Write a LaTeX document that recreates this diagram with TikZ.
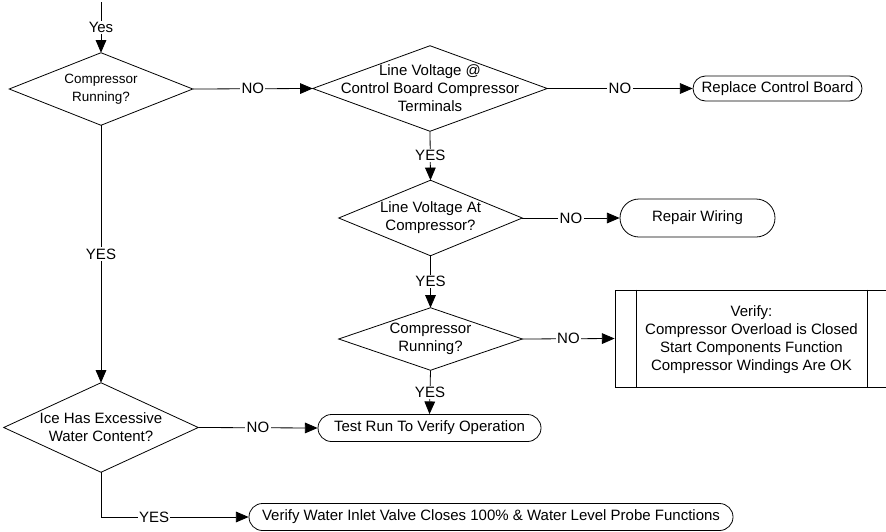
\documentclass[tikz,border=0pt]{standalone}
\usepackage{fontspec}
\setmainfont{Liberation Sans}
\usetikzlibrary{arrows.meta}
\begin{document}
\begin{tikzpicture}[x=0.75pt,y=-0.75pt,
  every node/.style={font=\fontsize{11.25pt}{13.5pt}\selectfont, align=center},
  dia/.style 2 args={inner sep=0pt, minimum width=#1*0.75pt, minimum height=#2*0.75pt},
  term/.style 2 args={draw, line width=0.6pt, inner sep=0pt, minimum width=#1*0.75pt, minimum height=#2*0.75pt, rounded corners=#2*0.375pt},
  procbox/.style 2 args={draw, line width=0.6pt, inner sep=0pt, minimum width=#1*0.75pt, minimum height=#2*0.75pt},
  lbl/.style={fill=white, inner sep=1pt},
  wire/.style={line width=0.6pt},
  conn/.style={line width=0.6pt, -{Triangle[length=9.5pt,width=8pt]}}]
\useasboundingbox (0,0) rectangle (886,532);
\clip (0,0) rectangle (886,532);

% decisions
\node[dia={183}{72}, font=\fontsize{10.1pt}{13.5pt}\selectfont] (d1) at (101,89) {Compressor\\Running?};
\node[dia={234}{85}] (d2) at (430,88.5) {Line Voltage @\\Control Board Compressor\\Terminals};
\node[dia={183}{75}] (d3) at (430.5,218) {Line Voltage At\\Compressor?};
\node[dia={183}{62}] (d4) at (430.5,339) {Compressor\\Running?};
\node[dia={194}{89}] (d5) at (101,427.5) {Ice Has Excessive\\Water Content?};
\foreach \d in {d1,d2,d3,d4,d5}
  \draw[wire] (\d.north) -- (\d.east) -- (\d.south) -- (\d.west) -- cycle;

% terminals
\node[term={169}{25}] (rcb) at (777.5,88.5) {Replace Control Board};
\node[term={155}{38}] (rw) at (697.5,218) {Repair Wiring};
\node[term={223}{27}] (tr) at (429.5,428) {Test Run To Verify Operation};
\node[term={484}{27}] (vw) at (491,517) {Verify Water Inlet Valve Closes 100\% \& Water Level Probe Functions};

% predefined process
\node[procbox={274}{97}] (proc) at (752,338.5) {};
\draw[wire] ([xshift=22*0.75pt]proc.north west) -- ([xshift=22*0.75pt]proc.south west);
\draw[wire] ([xshift=-22*0.75pt]proc.north east) -- ([xshift=-22*0.75pt]proc.south east);
\node (proctxt) at (751.5,340) {Verify:\\Compressor Overload is Closed\\Start Components Function\\Compressor Windings Are OK};

% connectors
\coordinate (start) at (101,2);
\draw[conn] (start) -- node[lbl]{Yes} (d1.north);
\draw[conn] (d1.east) -- node[lbl]{NO} (d2.west);
\draw[conn] (d2.east) -- node[lbl]{NO} (rcb.west);
\draw[conn] (d2.south) -- node[lbl]{YES} (d3.north);
\draw[conn] (d3.east) -- node[lbl]{NO} (rw.west);
\draw[conn] (d3.south) -- node[lbl]{YES} (d4.north);
\draw[conn] (d4.east) -- node[lbl]{NO} (proc.west);
\draw[conn] (d4.south) -- node[lbl]{YES} (tr.north);
\draw[conn] (d1.south) -- node[lbl]{YES} (d5.north);
\draw[conn] (d5.east) -- node[lbl]{NO} (tr.west);
\draw[conn] (d5.south) |- node[lbl, pos=0.68]{YES} (vw.west);
\end{tikzpicture}
\end{document}
